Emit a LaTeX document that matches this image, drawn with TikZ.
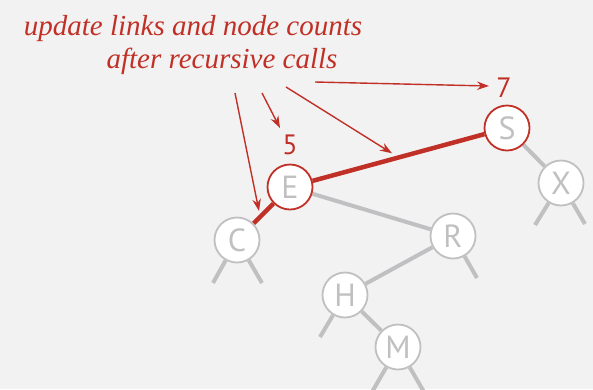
\documentclass[tikz,border=0pt]{standalone}
\usepackage{fontspec}
\setsansfont{PT Sans}
\newfontfamily\notefont{Liberation Serif}
\usetikzlibrary{calc, arrows.meta}

\definecolor{callred}{RGB}{192,48,38}
\definecolor{linkgray}{RGB}{192,192,194}
\definecolor{paper}{RGB}{242,242,242}

\pgfdeclarelayer{links}
\pgfsetlayers{links,main}

\begin{document}
\begin{tikzpicture}[x=1pt, y=-1pt,
        key/.style={circle, draw=linkgray, line width=1.8pt, fill=white, minimum size=45pt, inner sep=0pt,
            text=linkgray, font=\sffamily\fontsize{32}{34}\selectfont},
        hot/.style={key, draw=callred},
        link/.style={draw=linkgray, line width=4pt},
        hotlink/.style={draw=callred, line width=4.5pt},
        count/.style={text=callred, font=\sffamily\fontsize{28}{30}\selectfont},
        note/.style={text=callred, anchor=base, font=\notefont\itshape\fontsize{29}{33}\selectfont},
        pointer/.style={draw=callred, line width=1.4pt, -{Stealth[length=12pt, width=8.5pt]}}]
        \begin{pgfonlayer}{links}
            \fill[paper] (0,0) rectangle (593,389);
        \end{pgfonlayer}
        \useasboundingbox (0,0) rectangle (593,389);

        \node[note] (line1) at (193,35) {update links and node counts};
        \node[note] (line2) at (222,68) {after recursive calls};

        \node[hot] (S) at (507,128) {S};
        \node[key] (X) at (561,183) {X};
        \node[hot] (E) at (290,187) {E};
        \node[key] (C) at (237,240) {C};
        \node[key] (R) at (453,236) {R};
        \node[key] (H) at (345,295) {H};
        \node[key] (M) at (398,347) {M};

        \node[count] (sevenS) at (504,88) {7};
        \node[count] (fiveE) at (290,145) {5};

        % loose ends of the subtrees
        \coordinate (cl) at (213,283);
        \coordinate (cr) at (262,283);
        \coordinate (rr) at (477,278);
        \coordinate (hl) at (320,337);
        \coordinate (ml) at (372,392);
        \coordinate (mr) at (424,392);
        \coordinate (xl) at (535,225);
        \coordinate (xr) at (585,224);

        \begin{pgfonlayer}{links}
            \path[link] (S) -- (X) (E) -- (R) (R) -- (H) (H) -- (M);
            \path[link] (C) -- (cl) (C) -- (cr) (R) -- (rr) (H) -- (hl)
                (M) -- (ml) (M) -- (mr) (X) -- (xl) (X) -- (xr);
            \path[hotlink] (E) -- (S) (E) -- (C);
        \end{pgfonlayer}

        % arrows from the note
        \coordinate (fromC) at (235,93);
        \coordinate (toC) at (259,211);
        \coordinate (fromE) at (262,93);
        \coordinate (toE) at (280,128);
        \coordinate (fromES) at (286,87);
        \coordinate (toES) at ($(E)!0.47!(S)+(0,-6)$);
        \coordinate (fromS) at (315,82);
        \coordinate (toS) at (489,86);

        \draw[pointer] (fromC) -- (toC);
        \draw[pointer] (fromE) -- (toE);
        \draw[pointer] (fromES) -- (toES);
        \draw[pointer] (fromS) -- (toS);
    \end{tikzpicture}
\end{document}
